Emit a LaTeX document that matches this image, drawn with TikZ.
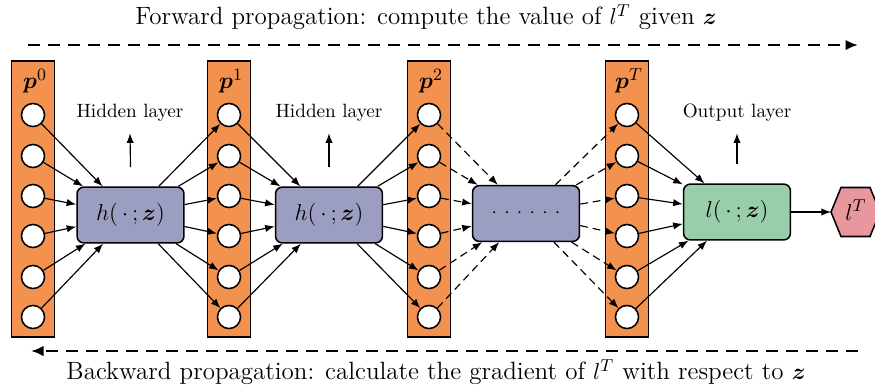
\documentclass[tikz,border=0pt]{standalone}
\usepackage{bm}
\usetikzlibrary{arrows.meta}
\definecolor{orng}{RGB}{243,146,78}
\definecolor{hblue}{RGB}{155,158,192}
\definecolor{lgreen}{RGB}{152,206,170}
\definecolor{hpink}{RGB}{232,152,157}
\begin{document}
\begin{tikzpicture}[x=0.52pt,y=-0.52pt,
  colbox/.style={draw=black, thick, fill=orng},
  neuron/.style={circle, draw=black, thick, fill=white, minimum size=12pt, inner sep=0pt},
  fbox/.style={draw=black, thick, rounded corners=3.5pt, minimum width=55.6pt, minimum height=29pt, inner sep=0pt, font=\fontsize{13}{15}\selectfont},
  conn/.style={semithick, -{Latex[length=5pt,width=3.8pt]}},
  dconn/.style={conn, dash pattern=on 4pt off 2.6pt},
  bigarrow/.style={line width=1.3pt, dash pattern=on 6.2pt off 4.2pt, -{Latex[length=6.5pt,width=5.5pt]}},
  lab/.style={inner sep=1pt},
  ttl/.style={font=\fontsize{13}{16}\selectfont}
]
\useasboundingbox (0,0) rectangle (875,388);

% titles
\node[ttl] (ft) at (426,17) {Forward propagation: compute the value of $l^T$ given $\bm{z}$};
\node[ttl] (bt) at (436,372) {Backward propagation: calculate the gradient of $l^T$ with respect to $\bm{z}$};
\coordinate (fs) at (28,45);
\coordinate (fe) at (858,45);
\coordinate (bs) at (858,351);
\coordinate (be) at (31,351);
\draw[bigarrow] (fs) -- (fe);
\draw[bigarrow] (bs) -- (be);

% columns
\foreach \k/\x in {0/33,1/229,2/429,T/627} {
  \draw[colbox] (\x-21.5,61) rectangle (\x+21.5,337);
  \node[font=\fontsize{13}{15}\selectfont, lab] (p\k) at (\x+2,81) {$\bm{p}^{\k}$};
  \foreach \i/\y in {1/115,2/156,3/196,4/236,5/277,6/317}
    \node[neuron] (c\k-\i) at (\x,\y) {};
}

% function boxes
\node[fbox, fill=hblue] (h1) at (130.5,215) {$h(\,\cdot\,;\bm{z})$};
\node[fbox, fill=hblue] (h2) at (329,215) {$h(\,\cdot\,;\bm{z})$};
\node[fbox, fill=hblue, font=\normalsize] (hd) at (526,213.5) {$\mathord{\cdot}\hspace{3.8pt}\mathord{\cdot}\hspace{3.8pt}\mathord{\cdot}\hspace{3.8pt}\mathord{\cdot}\hspace{3.8pt}\mathord{\cdot}\hspace{3.8pt}\mathord{\cdot}$};
\node[fbox, fill=lgreen] (lb) at (737,212) {$l(\,\cdot\,;\bm{z})$};

% output hexagon
\draw[thick, fill=hpink] (831,212) -- (841,187.5) -- (870,187.5) -- (880,212) -- (870,236.5) -- (841,236.5) -- cycle;
\coordinate (hexL) at (831,212);
\node[font=\fontsize{13}{15}\selectfont] (lT) at (856,210) {$l^T$};
\draw[conn] (lb) -- (hexL);

% connections
\foreach \i in {1,...,6} {
  \draw[conn] (c0-\i) -- (h1);
  \draw[conn] (h1) -- (c1-\i);
  \draw[conn] (c1-\i) -- (h2);
  \draw[conn] (h2) -- (c2-\i);
  \draw[dconn] (c2-\i) -- (hd);
  \draw[dconn] (hd) -- (cT-\i);
  \draw[conn] (cT-\i) -- (lb);
}

% layer labels
\node (hl1) at (130,113) {Hidden layer};
\node (hl2) at (329,113) {Hidden layer};
\node (ol) at (737,113) {Output layer};
\draw[conn] ([yshift=10pt]h1.north) -- ([yshift=-2.5pt]hl1.south);
\draw[conn] ([yshift=10pt]h2.north) -- ([yshift=-2.5pt]hl2.south);
\draw[conn] ([yshift=10pt]lb.north) -- ([yshift=-2.5pt]ol.south);
\end{tikzpicture}
\end{document}
